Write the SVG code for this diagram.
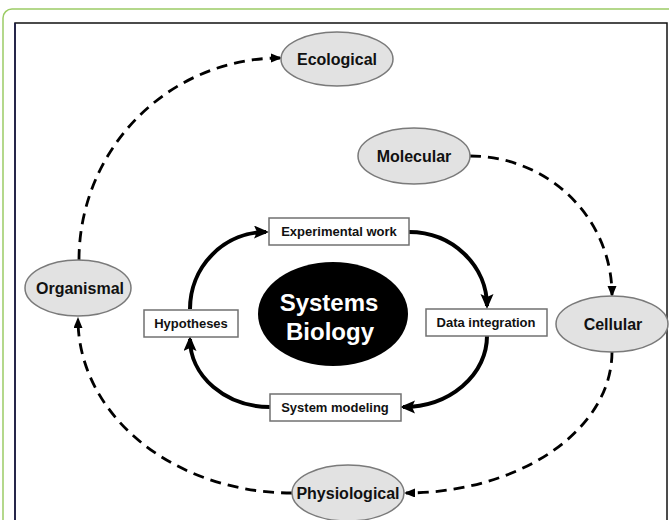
<svg xmlns="http://www.w3.org/2000/svg" width="669" height="520" viewBox="0 0 669 520">
<style>
.ell{fill:#e2e2e2;stroke:#7a7a7a;stroke-width:1.5}
.box{fill:#fff;stroke:#707070;stroke-width:1.5}
.lbl{font-family:"Liberation Sans",Arial,sans-serif;font-weight:bold;fill:#111;text-anchor:middle}
.el{font-size:16px}
.bx{font-size:13px}
.solid{fill:none;stroke:#000;stroke-width:4}
.dash{fill:none;stroke:#000;stroke-width:2.8;stroke-dasharray:11 7}
</style>
<defs>
<marker id="ah" markerUnits="userSpaceOnUse" markerWidth="16" markerHeight="14" refX="12" refY="6.5" orient="auto">
<path d="M0,0 L15,6.5 L0,13 L3,6.5 z" fill="#000"/>
</marker>
<marker id="ad" markerUnits="userSpaceOnUse" markerWidth="12" markerHeight="10" refX="9" refY="4.5" orient="auto">
<path d="M0,0 L11,4.5 L0,9 z" fill="#000"/>
</marker>
</defs>
<rect x="3" y="9" width="690" height="540" rx="9" fill="#fff" stroke="#9ccc65" stroke-width="1.5"/>
<rect x="15" y="23" width="652" height="520" fill="#fff" stroke="#111" stroke-width="1.5"/>
<line x1="15" y1="23" x2="15" y2="520" stroke="#1a1a4a" stroke-width="1.5"/>
<g id="connectors">
<path class="solid" d="M190,309 A76,77 0 0,1 266,232" marker-end="url(#ah)"/>
<path class="solid" d="M409,232 A78,74 0 0,1 487,306" marker-end="url(#ah)"/>
<path class="solid" d="M487,336 A84,71 0 0,1 403,407" marker-end="url(#ah)"/>
<path class="solid" d="M270,407 A80,68 0 0,1 190,339" marker-end="url(#ah)"/>
<path class="dash" d="M79,260 A201,202 0 0,1 280,58" marker-end="url(#ad)"/>
<path class="dash" d="M470,156 A142,139 0 0,1 612,295" marker-end="url(#ad)"/>
<path class="dash" d="M612,352 A206,141 0 0,1 406,493" marker-end="url(#ad)"/>
<path class="dash" d="M292,493 A214,174 0 0,1 78,319" marker-end="url(#ad)"/>
</g>
<g id="ecological"><ellipse class="ell" cx="337" cy="59" rx="56" ry="27"/><text class="lbl el" x="337" y="65">Ecological</text></g>
<g id="molecular"><ellipse class="ell" cx="414" cy="156" rx="56" ry="28"/><text class="lbl el" x="414" y="162">Molecular</text></g>
<g id="organismal"><ellipse class="ell" cx="78" cy="288" rx="53" ry="28"/><text class="lbl el" x="80" y="294">Organismal</text></g>
<g id="cellular"><ellipse class="ell" cx="612" cy="324" rx="56" ry="28"/><text class="lbl el" x="613" y="330">Cellular</text></g>
<g id="physiological"><ellipse class="ell" cx="348" cy="493" rx="56" ry="28"/><text class="lbl el" x="348" y="499">Physiological</text></g>
<g id="systems-biology"><ellipse cx="333" cy="314" rx="75" ry="52" fill="#000"/><text class="lbl" x="329" y="311" font-size="24" style="fill:#fff">Systems</text><text class="lbl" x="330" y="340" font-size="24" style="fill:#fff">Biology</text></g>
<g id="experimental-work"><rect class="box" x="269" y="218" width="140" height="27"/><text class="lbl bx" x="339" y="236">Experimental work</text></g>
<g id="hypotheses"><rect class="box" x="144" y="310" width="94" height="27"/><text class="lbl bx" x="191" y="328">Hypotheses</text></g>
<g id="data-integration"><rect class="box" x="426" y="309" width="121" height="27"/><text class="lbl bx" x="486" y="327">Data integration</text></g>
<g id="system-modeling"><rect class="box" x="270" y="394" width="131" height="27"/><text class="lbl bx" x="335" y="412">System modeling</text></g>
</svg>
